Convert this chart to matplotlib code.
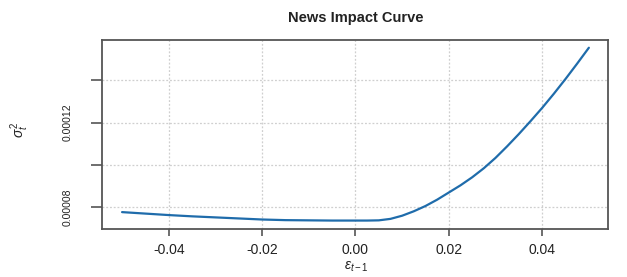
import matplotlib
matplotlib.use("Agg")
import matplotlib.pyplot as plt
from matplotlib.ticker import FixedLocator, FixedFormatter

plt.rcParams['font.family'] = ['Liberation Sans', 'DejaVu Sans']
plt.rcParams['mathtext.fontset'] = 'custom'
plt.rcParams['mathtext.rm'] = 'Liberation Sans'
plt.rcParams['mathtext.it'] = 'Liberation Sans:italic'

title = "News Impact Curve"
eps = [-0.05, -0.045, -0.04, -0.035, -0.03, -0.025, -0.02, -0.015, -0.01, -0.005,
       0.0, 0.0025, 0.005, 0.0075, 0.01, 0.0125, 0.015, 0.0175, 0.02, 0.0225,
       0.025, 0.0275, 0.03, 0.0325, 0.035, 0.0375, 0.04, 0.0425, 0.045, 0.0475, 0.05]
sigma2 = [0.0000776, 0.0000769, 0.0000762, 0.0000756, 0.0000751, 0.0000746, 0.0000741,
          0.0000738, 0.0000737, 0.0000736, 0.0000736, 0.0000736, 0.0000737, 0.0000744,
          0.0000759, 0.0000780, 0.0000805, 0.0000835, 0.0000869, 0.0000903, 0.0000941,
          0.0000984, 0.0001033, 0.0001088, 0.0001146, 0.0001207, 0.0001270, 0.0001337,
          0.0001407, 0.0001480, 0.0001555]
xticks = [-0.04, -0.02, 0.00, 0.02, 0.04]
xticklabels = ["-0.04", "-0.02", "0.00", "0.02", "0.04"]
yticks = [0.00008, 0.00010, 0.00012, 0.00014]
yticklabels = ["0.00008", "", "0.00012", ""]

W, H = 627, 277
fig = plt.figure(figsize=(W / 100, H / 100), dpi=100)
ax = fig.add_axes([102 / W, 1 - 229 / H, (608 - 102) / W, (229 - 39.5) / H])

ax.plot(eps, sigma2, color='#1f6cab', lw=1.6, zorder=3,
        solid_joinstyle='round', solid_capstyle='round')

ax.set_xlim(-0.0543, 0.0541)
ax.set_ylim(0.0000696, 0.0001594)

ax.xaxis.set_major_locator(FixedLocator(xticks))
ax.xaxis.set_major_formatter(FixedFormatter(xticklabels))
ax.yaxis.set_major_locator(FixedLocator(yticks))
ax.yaxis.set_major_formatter(FixedFormatter(yticklabels))

ax.grid(True, color='#cfcfcf', linestyle=(0, (1.5, 1.5)), linewidth=0.9)
for s in ax.spines.values():
    s.set_color('#555555')
    s.set_linewidth(1.3)

ax.tick_params(axis='x', length=5, width=1.2, color='#555555', pad=5,
               labelsize=10, labelcolor='#222222')
ax.tick_params(axis='y', length=8, width=1.2, color='#555555', pad=13,
               labelsize=7.5, labelcolor='#222222')
for lab in ax.get_yticklabels():
    lab.set_rotation(90)
    lab.set_va('center')

fig.text(356 / W, 1 - 18 / H, title, ha='center', va='center',
         fontsize=10.5, fontweight='bold', color='#222222')
fig.text(356 / W, 1 - 267 / H, r'$\varepsilon_{t-1}$', ha='center', va='center',
         fontsize=10, color='#222222')
fig.text(20 / W, 1 - 130 / H, r'$\sigma_t^2$', ha='center', va='center',
         fontsize=10, rotation=90, color='#222222')

fig.savefig('out.png', dpi=100)
